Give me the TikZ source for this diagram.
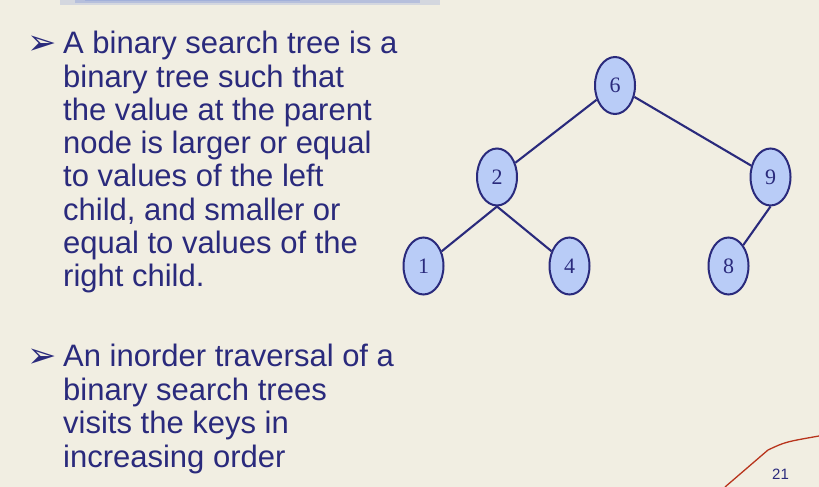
\documentclass[tikz,border=0pt]{standalone}
\usepackage{fontspec}
\setmainfont{Liberation Sans}
\newfontfamily\numfont{Liberation Serif}
\newfontfamily\symfont{DejaVu Sans}
\usetikzlibrary{shapes.geometric}
\definecolor{paper}{HTML}{F1EEE2}
\definecolor{navy}{HTML}{2A2A7C}
\definecolor{nodefill}{HTML}{B9CCF7}
\definecolor{redline}{HTML}{B8341C}
\definecolor{bandblue}{HTML}{7F95D8}
\tikzset{
  keynode/.style={ellipse, draw=navy, line width=2pt, fill=nodefill,
    minimum width=40pt, minimum height=57pt, inner sep=0pt,
    text=navy, font=\numfont\fontsize{22}{22}\selectfont},
  edge/.style={draw=navy, line width=2.1pt},
  bodyline/.style={anchor=base west, text=navy, inner sep=0pt,
    font=\fontsize{31}{31}\selectfont},
  bulletmark/.style={anchor=base west, text=navy, inner sep=0pt,
    font=\symfont\fontsize{35}{35}\selectfont}
}
\begin{document}
\begin{tikzpicture}[x=1pt,y=1pt]
\fill[paper] (0,0) rectangle (819,487);
\useasboundingbox (0,0) rectangle (819,487);
% top blue band
\fill[bandblue, opacity=0.25] (60,482) rectangle (440,487);
\fill[bandblue, opacity=0.35] (75,484) rectangle (420,487);
\fill[bandblue, opacity=0.35] (85,485.5) rectangle (300,487);
% red corner line
\draw[redline, line width=1.3pt] (725,0) -- (768,37) .. controls (785,45) .. (819,51);

% text, first bullet
\node[bulletmark] (b1) at (27,432) {➢};
\foreach \txt [count=\i] in {A binary search tree is a,binary tree such that,the value at the parent,node is larger or equal,to values of the left,{child, and smaller or},equal to values of the,right child.}{
  \node[bodyline] (ta\i) at (63,{433-(\i-1)*33.25}) {\txt};
}
% second bullet
\node[bulletmark] (b2) at (27,119) {➢};
\foreach \txt [count=\i] in {An inorder traversal of a,binary search trees,visits the keys in,increasing order}{
  \node[bodyline] (tb\i) at (63,{120-(\i-1)*33.5}) {\txt};
}
\node[anchor=base west, text=navy, inner sep=0pt, font=\fontsize{15}{15}\selectfont] (pg) at (772,7) {21};

% tree
\node[keynode] (n6) at (615,401.5) {6};
\node[keynode] (n2) at (497,310) {2};
\node[keynode] (n9) at (770.5,310) {9};
\node[keynode] (n1) at (423.5,221) {1};
\node[keynode] (n4) at (569.5,221) {4};
\node[keynode] (n8) at (728.5,221) {8};
\draw[edge] (n6) -- (n2);
\draw[edge] (n6) -- (n9);
\draw[edge] (n2.south) -- (n1);
\draw[edge] (n2.south) -- (n4);
\draw[edge] (n9.south) -- (n8);
\end{tikzpicture}
\end{document}
